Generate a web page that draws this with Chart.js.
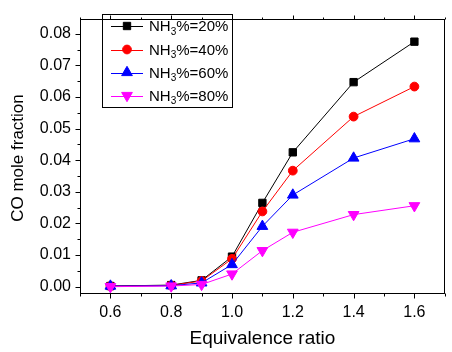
<!DOCTYPE html>
<html><head><meta charset="utf-8">
<script src="https://cdn.jsdelivr.net/npm/chart.js@4/dist/chart.umd.min.js"></script>
<style>html,body{margin:0;padding:0;background:#fff}#wrap{width:452px;height:352px;position:relative}</style>
</head><body><div id="wrap"><canvas id="c" width="452" height="352"></canvas></div>
<script>
const ratios=[0.6,0.8,0.9,1.0,1.1,1.2,1.4,1.6];
const nh20=[0.0002,0.0005,0.0020,0.0095,0.0265,0.0425,0.0647,0.0775];
const nh40=[0.0002,0.0004,0.0018,0.0088,0.0238,0.0367,0.0538,0.0633];
const nh60=[0.0002,0.0003,0.0012,0.0070,0.0191,0.0290,0.0407,0.0468];
const nh80=[0.0000,0.0002,0.0007,0.0040,0.0114,0.0172,0.0228,0.0256];
const seriesPct=['20','40','60','80'];
const xTicks=[0.6,0.8,1.0,1.2,1.4,1.6];
const xMinor=[0.5,0.7,0.9,1.1,1.3,1.5,1.7];
const yTicks=[0,0.01,0.02,0.03,0.04,0.05,0.06,0.07,0.08];
const yMinor=[0.005,0.015,0.025,0.035,0.045,0.055,0.065,0.075];
const xTitle='Equivalence ratio';
const yTitle='CO mole fraction';

const FONT='"Liberation Sans", Arial, sans-serif';
const styles=[
  {color:'#000000',point:'rect',r:5.2,rot:0},
  {color:'#ff0000',point:'circle',r:4.4,rot:0},
  {color:'#0000ff',point:'triangle',r:6.2,rot:0},
  {color:'#ff00ff',point:'triangle',r:6.2,rot:180}
];
const seriesVals=[nh20,nh40,nh60,nh80];

const datasets=seriesVals.map((vals,i)=>({
  label:'NH3%='+seriesPct[i]+'%',
  data:ratios.map((x,j)=>({x:x,y:vals[j]})),
  borderColor:styles[i].color,
  backgroundColor:styles[i].color,
  borderWidth:1,
  pointStyle:styles[i].point,
  pointRadius:styles[i].r,
  pointRotation:styles[i].rot,
  pointBorderWidth:1,
  pointBorderColor:styles[i].color,
  pointBackgroundColor:styles[i].color,
  tension:0,
  order:4-i
}));

function drawMarker(ctx,st,x,y){
  ctx.save();
  ctx.fillStyle=st.color;ctx.strokeStyle=st.color;ctx.lineWidth=1;
  ctx.beginPath();
  const r=st.r;
  if(st.point==='rect'){const s=Math.SQRT1_2*r;ctx.rect(x-s,y-s,2*s,2*s);}
  else if(st.point==='circle'){ctx.arc(x,y,r,0,Math.PI*2);}
  else{
    let rad=st.rot*Math.PI/180;
    ctx.moveTo(x+Math.sin(rad)*r,y-Math.cos(rad)*r);
    rad+=2*Math.PI/3;
    ctx.lineTo(x+Math.sin(rad)*r,y-Math.cos(rad)*r);
    rad+=2*Math.PI/3;
    ctx.lineTo(x+Math.sin(rad)*r,y-Math.cos(rad)*r);
    ctx.closePath();
  }
  ctx.fill();ctx.stroke();
  ctx.restore();
}

const decor={
  id:'decor',
  afterDraw(chart){
    const ctx=chart.ctx, a=chart.chartArea, xs=chart.scales.x, ys=chart.scales.y;
    ctx.save();
    ctx.strokeStyle='#000';ctx.lineWidth=1;
    const L=Math.round(a.left)+0.5, R=Math.round(a.right)-0.5, T=Math.round(a.top)+0.5, B=Math.round(a.bottom)+0.5;
    ctx.strokeRect(L,T,R-L,B-T);
    ctx.beginPath();
    xTicks.forEach(v=>{const p=Math.round(xs.getPixelForValue(v))+0.5;ctx.moveTo(p,B);ctx.lineTo(p,B+5);ctx.moveTo(p,T);ctx.lineTo(p,T-4);});
    xMinor.forEach(v=>{const p=Math.round(xs.getPixelForValue(v))+0.5;ctx.moveTo(p,B);ctx.lineTo(p,B+3);ctx.moveTo(p,T);ctx.lineTo(p,T-2);});
    yTicks.forEach(v=>{const p=Math.round(ys.getPixelForValue(v))+0.5;ctx.moveTo(L,p);ctx.lineTo(L-5,p);});
    yMinor.forEach(v=>{const p=Math.round(ys.getPixelForValue(v))+0.5;ctx.moveTo(L,p);ctx.lineTo(L-3,p);});
    ctx.stroke();
    // titles
    ctx.fillStyle='#000';
    ctx.font='19px '+FONT;ctx.textAlign='center';ctx.textBaseline='middle';
    ctx.fillText(xTitle,(a.left+a.right)/2,339);
    ctx.save();ctx.translate(18,158);ctx.rotate(-Math.PI/2);
    ctx.font='17px '+FONT;ctx.fillText(yTitle,0,0);ctx.restore();
    // legend
    ctx.strokeRect(102.5,14.5,130,93);
    const rows=[26,49.5,72.5,95.5];
    seriesPct.forEach((pct,i)=>{
      const y=rows[i], st=styles[i];
      ctx.strokeStyle=st.color;ctx.lineWidth=1;
      ctx.beginPath();ctx.moveTo(111,Math.round(y)+0.5);ctx.lineTo(143,Math.round(y)+0.5);ctx.stroke();
      drawMarker(ctx,st,127,y);
      ctx.fillStyle='#000';ctx.textAlign='left';ctx.textBaseline='middle';
      let x=149;
      ctx.font='15px '+FONT;ctx.fillText('NH',x,y+1);x+=ctx.measureText('NH').width;
      ctx.font='10px '+FONT;ctx.fillText('3',x,y+6);x+=ctx.measureText('3').width;
      ctx.font='15px '+FONT;ctx.fillText('%='+pct+'%',x,y+1);
    });
    ctx.restore();
  }
};

new Chart(document.getElementById('c'),{
  type:'line',
  data:{datasets:datasets},
  options:{
    responsive:false,animation:false,
    layout:{padding:{top:9,right:1,left:0,bottom:0}},
    plugins:{legend:{display:false},tooltip:{enabled:false}},
    scales:{
      x:{type:'linear',min:0.5,max:1.7,
        grid:{display:false,drawTicks:false,tickLength:0},border:{display:false},
        afterBuildTicks:s=>{s.ticks=xTicks.map(v=>({value:v}));},
        afterFit:s=>{s.height=59;},
        ticks:{color:'#000',font:{family:FONT,size:16},padding:10,maxRotation:0,autoSkip:false,callback:v=>Number(v).toFixed(1)}},
      y:{type:'linear',min:-0.002,max:0.0848,
        grid:{display:false,drawTicks:false,tickLength:0},border:{display:false},
        afterBuildTicks:s=>{s.ticks=yTicks.map(v=>({value:v}));},
        afterFit:s=>{s.width=80;},
        ticks:{color:'#000',font:{family:FONT,size:16},padding:9,autoSkip:false,callback:v=>Number(v).toFixed(2)}}
    }
  },
  plugins:[decor]
});
</script></body></html>
